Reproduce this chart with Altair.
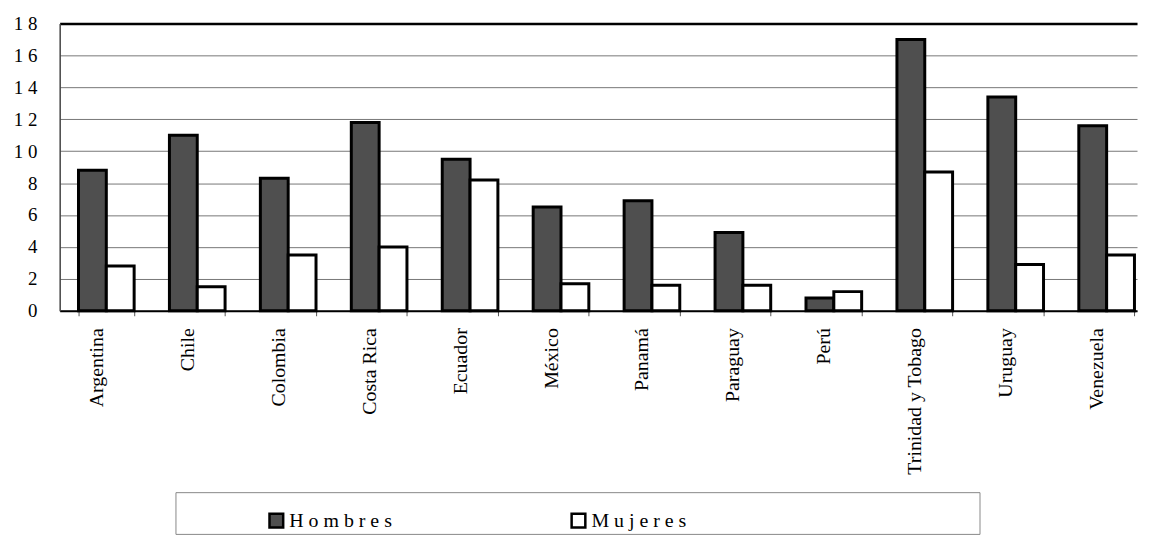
import altair as alt
import pandas as pd

paises = ["Argentina", "Chile", "Colombia", "Costa Rica", "Ecuador", "México",
          "Panamá", "Paraguay", "Perú", "Trinidad y Tobago", "Uruguay", "Venezuela"]
hombres = [8.8, 11.0, 8.3, 11.8, 9.5, 6.5, 6.9, 4.9, 0.8, 17.0, 13.4, 11.6]
mujeres = [2.8, 1.5, 3.5, 4.0, 8.2, 1.7, 1.6, 1.6, 1.2, 8.7, 2.9, 3.5]
series = ["Hombres", "Mujeres"]
y_ticks = [0, 2, 4, 6, 8, 10, 12, 14, 16, 18]

rows = []
for p, h, m in zip(paises, hombres, mujeres):
    rows.append({"pais": p, "sexo": series[0], "valor": h})
    rows.append({"pais": p, "sexo": series[1], "valor": m})
df = pd.DataFrame(rows)

FONT = "Liberation Serif"

bars = alt.Chart(df).mark_bar(stroke="black", strokeWidth=3).encode(
    x=alt.X(
        "pais:N", sort=paises,
        scale=alt.Scale(paddingInner=0.388, paddingOuter=0.1175, align=0.88),
        axis=alt.Axis(
            title=None, labelAngle=-90, labelFont=FONT, labelFontSize=20,
            labelColor="black", labelPadding=12, labelOffset=-10,
            tickBand="extent", tickSize=5, tickColor="#555",
            domainColor="black", domainWidth=2,
        ),
    ),
    xOffset=alt.XOffset("sexo:N", sort=series),
    y=alt.Y(
        "valor:Q", scale=alt.Scale(domain=[0, 18], nice=False),
        axis=alt.Axis(
            values=y_ticks, title=None, ticks=False, labelPadding=23,
            labelFont=FONT, labelFontSize=19, labelColor="black",
            labelExpr="join(split(datum.label, ''), ' ')",
            domainColor="#444", domainWidth=1.5,
            gridColor={"condition": {"test": "datum.value === 18", "value": "black"}, "value": "#777777"},
            gridWidth={"condition": {"test": "datum.value === 18", "value": 2.5}, "value": 1},
        ),
    ),
    fill=alt.Fill(
        "sexo:N", sort=series,
        scale=alt.Scale(domain=series, range=["#4f4f4f", "#ffffff"]),
        legend=alt.Legend(
            orient="none", legendX=208, legendY=490, direction="horizontal",
            title=None, labelFont=FONT, labelFontSize=20, labelColor="black",
            labelExpr="join(split(datum.label, ''), ' ')",
            symbolType="square", symbolSize=190, symbolStrokeColor="black",
            symbolStrokeWidth=2.5, columnPadding=175, labelOffset=3,
        ),
    ),
)

frame = alt.Chart(pd.DataFrame({"a": [0]})).mark_rect(
    fill="transparent", stroke="#888", strokeWidth=1
).encode(
    x=alt.value(117), x2=alt.value(926), y=alt.value(472), y2=alt.value(514)
)

chart = alt.layer(bars, frame).properties(width=1084, height=289).configure_view(stroke=None)

chart.save("out.html", embed_options={"renderer": "svg", "actions": False})
